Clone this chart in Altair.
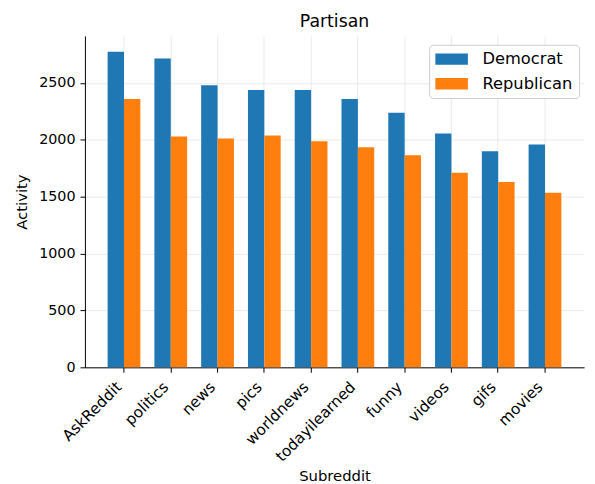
import altair as alt
import pandas as pd

subreddits = ["AskReddit", "politics", "news", "pics", "worldnews",
              "todayilearned", "funny", "videos", "gifs", "movies"]
democrat = [2775, 2715, 2480, 2438, 2438, 2360, 2238, 2055, 1900, 1960]
republican = [2360, 2030, 2012, 2038, 1988, 1935, 1865, 1710, 1630, 1535]
parties = ["Democrat", "Republican"]
colors = ["#1f77b4", "#ff7f0e"]

rows = []
for s, d, r in zip(subreddits, democrat, republican):
    rows.append({"Subreddit": s, "Party": "Democrat", "Activity": d})
    rows.append({"Subreddit": s, "Party": "Republican", "Activity": r})
df = pd.DataFrame(rows)

FONT = "DejaVu Sans"

chart = alt.Chart(df).mark_bar().encode(
    x=alt.X("Subreddit:N", sort=subreddits,
            scale=alt.Scale(paddingInner=0.3, paddingOuter=0.485),
            axis=alt.Axis(title="Subreddit", labelAngle=-45, labelAlign="right",
                          labelBaseline="middle", bandPosition=0.5, grid=True,
                          gridColor="#dddddd", gridOpacity=0.6,
                          domainColor="black", tickColor="black", tickSize=5,
                          labelFontSize=15.5, titleFontSize=15, labelPadding=12,
                          labelOffset=-5,
                          titleY=110, titleBaseline="middle",
                          labelColor="black", titleColor="black",
                          labelFont=FONT, titleFont=FONT,
                          titleFontWeight="normal")),
    xOffset=alt.XOffset("Party:N", sort=parties, scale=alt.Scale(paddingInner=0, paddingOuter=0)),
    y=alt.Y("Activity:Q", scale=alt.Scale(domain=[0, 2914], nice=False, zero=True),
            axis=alt.Axis(title="Activity", values=[0, 500, 1000, 1500, 2000, 2500],
                          format="d",
                          grid=True, gridColor="#dddddd", gridOpacity=0.6,
                          domainColor="black", tickColor="black", tickSize=5,
                          labelFontSize=14.5, titleFontSize=15, labelPadding=5,
                          titleX=-64, titleBaseline="middle",
                          labelColor="black", titleColor="black",
                          labelFont=FONT, titleFont=FONT,
                          titleFontWeight="normal")),
    color=alt.Color("Party:N", sort=parties,
                    scale=alt.Scale(domain=parties, range=colors),
                    legend=alt.Legend(title=None, orient="none",
                                      legendX=349, legendY=9,
                                      symbolType="M-1,-0.7H3V0.7H-1Z",
                                      symbolSize=272, symbolStrokeWidth=0,
                                      symbolOpacity=1,
                                      labelFontSize=16.5, labelColor="black",
                                      labelFont=FONT,
                                      labelOffset=31, rowPadding=8,
                                      padding=6, strokeColor="#cccccc",
                                      cornerRadius=4, fillColor="white")),
).properties(
    width=506, height=336,
    title=alt.TitleParams("Partisan", fontSize=17.5, fontWeight="normal",
                          font=FONT,
                          color="black", anchor="middle", offset=6),
    autosize=alt.AutoSizeParams(type="none"),
    padding={"left": 78, "top": 25, "right": 3, "bottom": 115},
).configure(font=FONT).configure_view(stroke=None)

chart.save("out.html", embed_options={"renderer": "svg", "actions": False})
